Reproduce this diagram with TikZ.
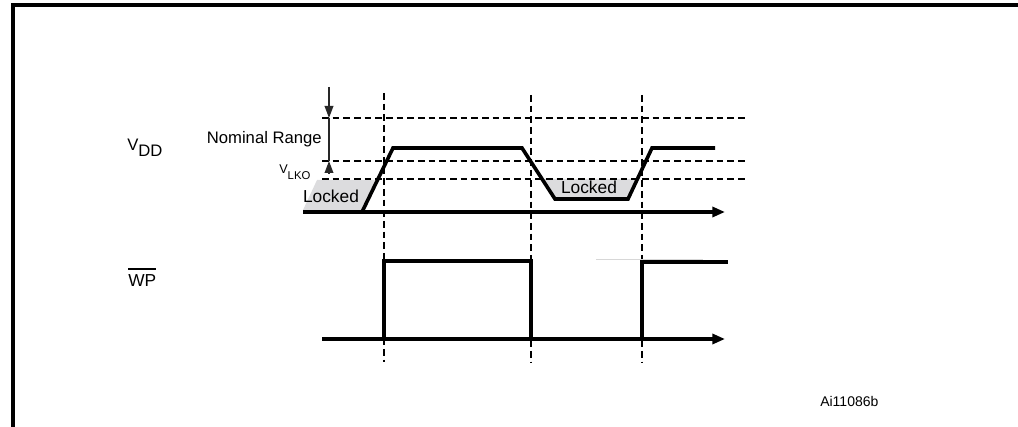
\documentclass[tikz,border=0pt]{standalone}
\usepackage{fontspec}
\setmainfont{Liberation Sans}
\usetikzlibrary{arrows.meta}

\tikzset{
  sig/.style={line width=2.7pt, line join=miter},
  grid/.style={line width=1.2pt, dash pattern=on 5pt off 3pt},
  lockfill/.style={fill={rgb, 255:red, 220; green, 220; blue, 222 }, draw=none},
  axisarrow/.style={-{Triangle[length=9.5pt,width=7.5pt]}},
}

\begin{document}
\begin{tikzpicture}[x=0.75pt,y=0.75pt,yscale=-1,xscale=1]
        \useasboundingbox (0,0) rectangle (1018,427);
        % frame
        \draw [line width=2.8pt]  (13,427) -- (13,5) -- (1018,5) ;
        % locked areas
        \fill [lockfill] (317,180) -- (378,180) -- (363,210) -- (303,210) -- cycle ;
        \fill [lockfill] (542,179) -- (637,179) -- (628,199) -- (555,199) -- cycle ;
        % levels and time marks
        \draw [grid]  (322,118) -- (745,118) ;
        \draw [grid]  (322,161) -- (745,161) ;
        \draw [grid]  (322,179) -- (745,179) ;
        \draw [grid]  (384,93) -- (384,362) ;
        \draw [grid]  (531,95) -- (531,362) ;
        \draw [grid]  (642,95) -- (642,362) ;
        % nominal range arrows
        \coordinate (nomtop) at (329,87) ;
        \coordinate (nomhi) at (329,118) ;
        \coordinate (nomlo) at (329,161) ;
        \coordinate (nombot) at (329,174) ;
        \draw [line width=1.1pt, color={rgb, 255:red, 40; green, 40; blue, 40 }, -{Triangle[length=9pt,width=6.5pt]}]  (nomtop) -- (nomhi) ;
        \draw [line width=1.1pt, color={rgb, 255:red, 40; green, 40; blue, 40 }]  (nomhi) -- (nomlo) ;
        \draw [line width=1.1pt, color={rgb, 255:red, 40; green, 40; blue, 40 }, -{Triangle[length=9pt,width=6.5pt]}]  (nombot) -- (nomlo) ;
        % VDD
        \draw [sig, axisarrow]  (303,212) -- (725,212) ;
        \draw [sig]  (303,212) -- (362,212) -- (393,148) -- (522,148) -- (555,199) -- (628,199) -- (652,148) -- (715,148) ;
        % WP
        \draw [line width=0.6pt, color={rgb, 255:red, 215; green, 215; blue, 215 }]  (596,259) -- (703,259) ;
        \draw [sig, axisarrow]  (322,339) -- (725,339) ;
        \draw [sig]  (384,339) -- (384,261) -- (531,261) -- (531,339) ;
        \draw [sig]  (642,339) -- (642,262) -- (728,262) ;
        % labels
        \draw (127,151) node (vdd) [anchor=base west][inner sep=0pt]  {\fontsize{12.5}{14}\selectfont V\raisebox{-4.5pt}{DD}};
        \draw (128,287) node (wp) [anchor=base west][inner sep=0pt]  {\fontsize{13}{15}\selectfont \vbox{\hrule height 1.6pt \vskip 3.6pt \hbox{WP}}};
        \draw (322,144) node (nomrange) [anchor=base east][inner sep=0pt]  {\fontsize{12.5}{14}\selectfont Nominal Range};
        \draw (279,174) node (vlko) [anchor=base west][inner sep=0pt]  {\fontsize{9.5}{11}\selectfont V\raisebox{-3.8pt}{\fontsize{8.5}{10}\selectfont LKO}};
        \draw (331,203) node (lockleft) [anchor=base][inner sep=0pt]  {\fontsize{13}{15}\selectfont Locked};
        \draw (589,194) node (lockmid) [anchor=base][inner sep=0pt]  {\fontsize{13}{15}\selectfont Locked};
        \draw (820,407) node (figid) [anchor=base west][inner sep=0pt]  {\fontsize{10.5}{12}\selectfont Ai11086b};
\end{tikzpicture}
\end{document}
